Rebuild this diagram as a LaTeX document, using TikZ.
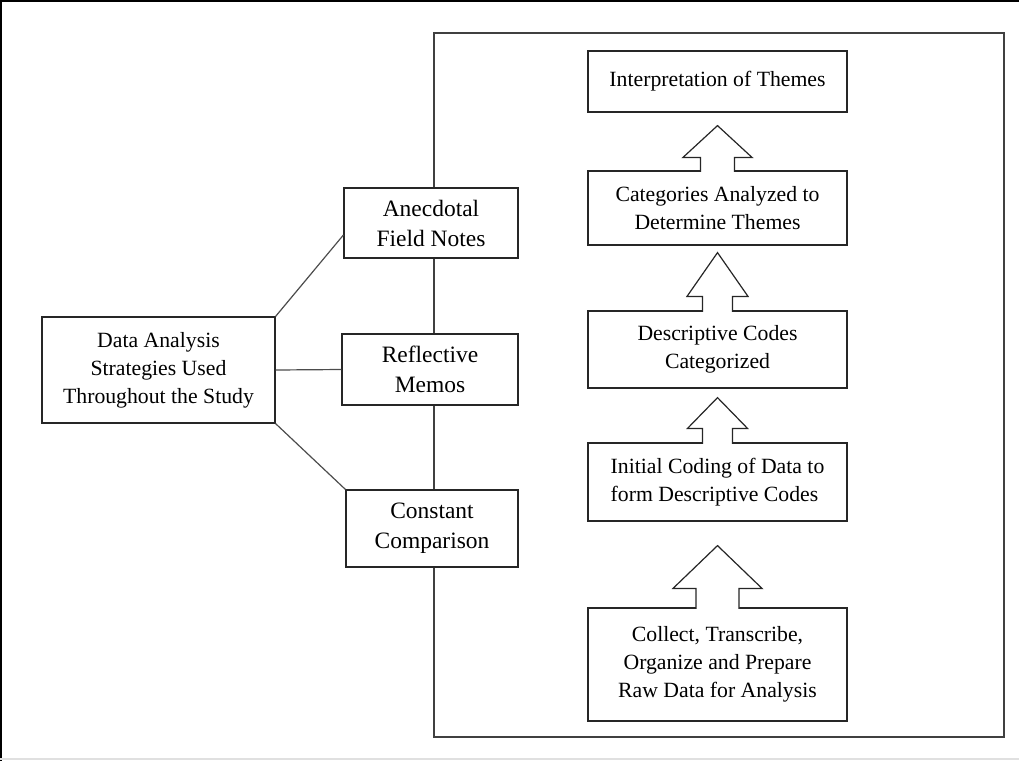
\documentclass[tikz,border=0pt]{standalone}
\usepackage{fontspec}
\setmainfont{Liberation Serif}
\usetikzlibrary{calc}

\begin{document}
\begin{tikzpicture}[x=0.75pt, y=-0.75pt,
  box/.style={draw=black!85, line width=0.9pt, fill=white, align=center, inner sep=0pt,
    font=\fontsize{16.3}{21}\selectfont},
  midbox/.style={box, font=\fontsize{17.6}{22.5}\selectfont},
  sz/.style 2 args={minimum width=#1*0.75pt, minimum height=#2*0.75pt},
  link/.style={draw=black!70, line width=0.9pt},
  blockarr/.style={draw=black!85, line width=0.9pt, fill=white, line join=miter}]
  \useasboundingbox (0,0) rectangle (1019,761);
  % page edges
  \draw[line width=2.2pt] (0,1) -- (1019,1);
  \draw[line width=2.2pt] (1,0) -- (1,761);
  \draw[black!12, line width=1pt] (0,759) -- (1019,759);

  % frame round the analysis steps
  \draw[black!75, line width=1.1pt] (434,33) rectangle (1004,737);

  % strategies
  \node[box, sz={233}{106}] (study) at (158.5,370) {Data Analysis\\Strategies Used\\Throughout the Study};
  \node[midbox, sz={174}{70}] (field) at (431,223) {Anecdotal\\Field Notes};
  \node[midbox, sz={176}{71}] (memos) at (430,369.5) {Reflective\\Memos};
  \node[midbox, sz={172}{77}] (compare) at (432,528.5) {Constant\\Comparison};

  \draw[link] (study.north east) -- ([yshift=-9pt]field.west);
  \draw[link] (study.east) -- (memos.west);
  \draw[link] (study.south east) -- (compare.north west);

  % analysis steps, bottom to top
  \node[box, sz={259}{61}] (themes) at (717.5,81.5) {Interpretation of Themes};
  \node[box, sz={259}{74}] (analyze) at (717.5,208) {Categories Analyzed to\\Determine Themes};
  \node[box, sz={259}{77}] (categ) at (717.5,349.5) {Descriptive Codes\\Categorized};
  \node[box, sz={259}{78}, align=left] (coding) at (717.5,482) {Initial Coding of Data to\\form Descriptive Codes};
  \node[box, sz={259}{113}] (collect) at (717.5,664.5) {Collect, Transcribe,\\Organize and Prepare\\Raw Data for Analysis};

  % hollow block arrows
  \foreach \lo/\up/\h/\s/\l/\g in {analyze/themes/34.5/17/13/13, categ/analyze/30.5/15/14/7,
      coding/categ/30/15/14/9, collect/coding/44.5/21.5/19/24} {
    \draw[blockarr] ($(\lo.north)+(-\s,1.5)$) -- ++(0,-\l-1.5) -- ++(\s-\h,0)
      -- ($(\up.south)+(0,\g)$) -- ($(\lo.north)+(\h,-\l)$) -- ++(\s-\h,0) -- ++(0,\l+1.5);
  }
\end{tikzpicture}
\end{document}
